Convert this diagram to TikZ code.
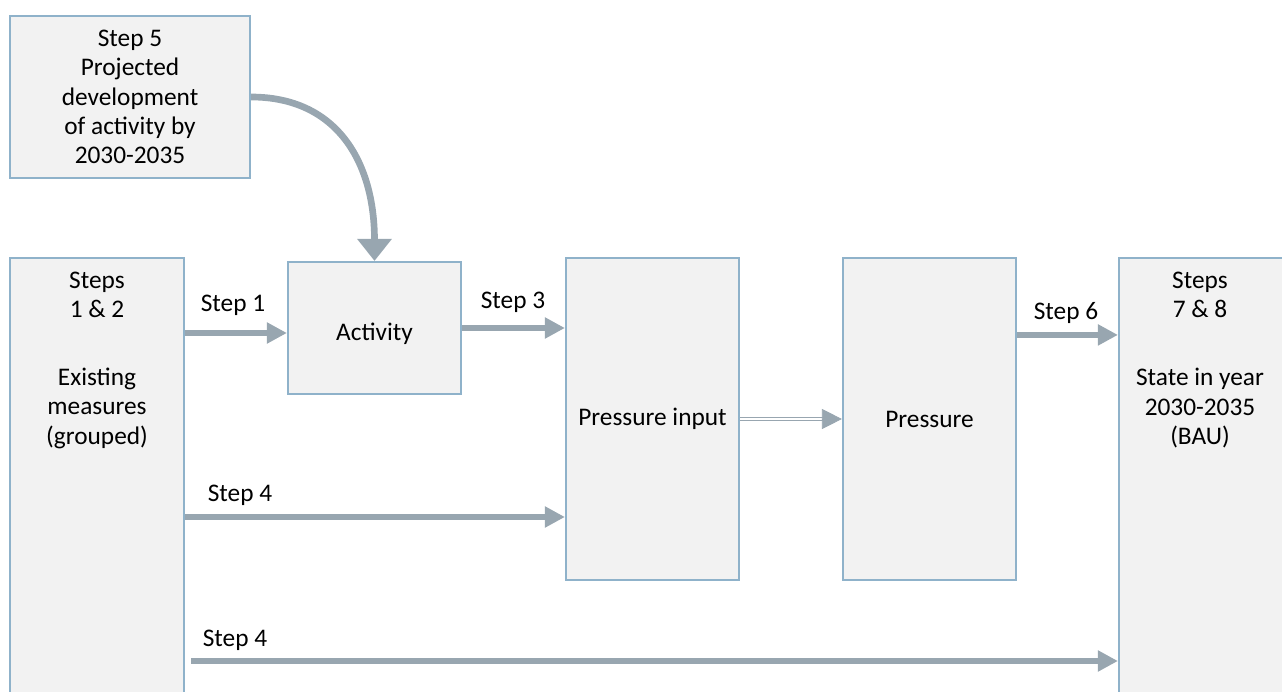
\documentclass[tikz,border=0pt]{standalone}
\usepackage{fontspec}
\setmainfont{Carlito}
\usetikzlibrary{arrows.meta,positioning,calc}
\definecolor{boxfill}{RGB}{242,242,242}
\definecolor{boxline}{RGB}{143,178,202}
\definecolor{flowcol}{RGB}{152,166,176}
\tikzset{
  box/.style={draw=boxline, line width=1.6pt, fill=boxfill, align=center, inner sep=2pt},
  flow/.style={draw=flowcol, line width=4pt, -{Triangle[length=15pt,width=15pt]}},
  dbl/.style={draw=flowcol, line width=0.9pt, double=white, double distance=1.2pt},
  lbl/.style={inner sep=1pt},
}

\begin{document}
\begin{tikzpicture}[x=0.75pt, y=-0.75pt, font=\fontsize{19}{22}\selectfont]

\useasboundingbox (0,0) rectangle (1282,692);
\clip (0,0) rectangle (1282,692);

% Kaesten
\node[box, minimum width=180pt, minimum height=121.5pt] (s5) at (130,97)
  {Step 5\\Projected\\development\\of activity by\\2030-2035};
\node[box, minimum width=130.5pt, minimum height=354pt] (lft) at (97,494) {};
\node[box, minimum width=129.75pt, minimum height=99pt, text height=22pt] (act) at (374.5,328) {Activity};
\node[box, minimum width=129.75pt, minimum height=241.5pt] (pin) at (652.5,419) {Pressure input};
\node[box, minimum width=129.75pt, minimum height=241.5pt] (prs) at (929.5,419) {Pressure};
\node[box, minimum width=135.75pt, minimum height=354pt] (rgt) at (1209.5,494) {};

% Texte in den grossen Kaesten
\node[align=center] (lfttxt) at (97,360) {Steps\\1 \& 2\\[29pt]Existing\\measures\\(grouped)};
\node[align=center] (rgttxt) at (1200,360) {Steps\\7 \& 8\\[29pt]State in year\\2030-2035\\(BAU)};

% Hilfspunkte
\coordinate (s1) at ($(act.west)+(0,5)$);
\coordinate (s6) at ($(prs.north east)+(0,78)$);
\coordinate (s4a) at ($(pin.west)+(0,98)$);
\coordinate (s4b) at ($(rgt.west)+(0,167)$);

% Pfeile
\draw[flow] (lft.east |- s1) -- (s1);
\draw[flow] (act.east) -- (act.east -| pin.west);
\draw[flow] (s6) -- (s6 -| rgt.west);
\draw[flow] (lft.east |- s4a) -- (s4a);
\draw[flow] ([xshift=4.5pt]lft.east |- s4b) -- (s4b);
\draw[dbl] (pin.east) -- ([xshift=-12pt]prs.west);
\draw[flowcol, line width=0.5pt, -{Triangle[length=15pt,width=15pt]}] ([xshift=-14pt]prs.west) -- (prs.west);
\draw[flowcol, line width=5pt, -{Triangle[length=16.5pt,width=25pt]}]
  (s5.east) .. controls +(85,0) and +(0,-100) .. (act.north);

% Beschriftungen
\node[lbl] (l1) at (233,305) {Step 1};
\node[lbl] (l3) at (513,302) {Step 3};
\node[lbl] (l6) at (1066,313) {Step 6};
\node[lbl] (l4a) at (240,495) {Step 4};
\node[lbl] (l4b) at (235,640) {Step 4};

\end{tikzpicture}
\end{document}
